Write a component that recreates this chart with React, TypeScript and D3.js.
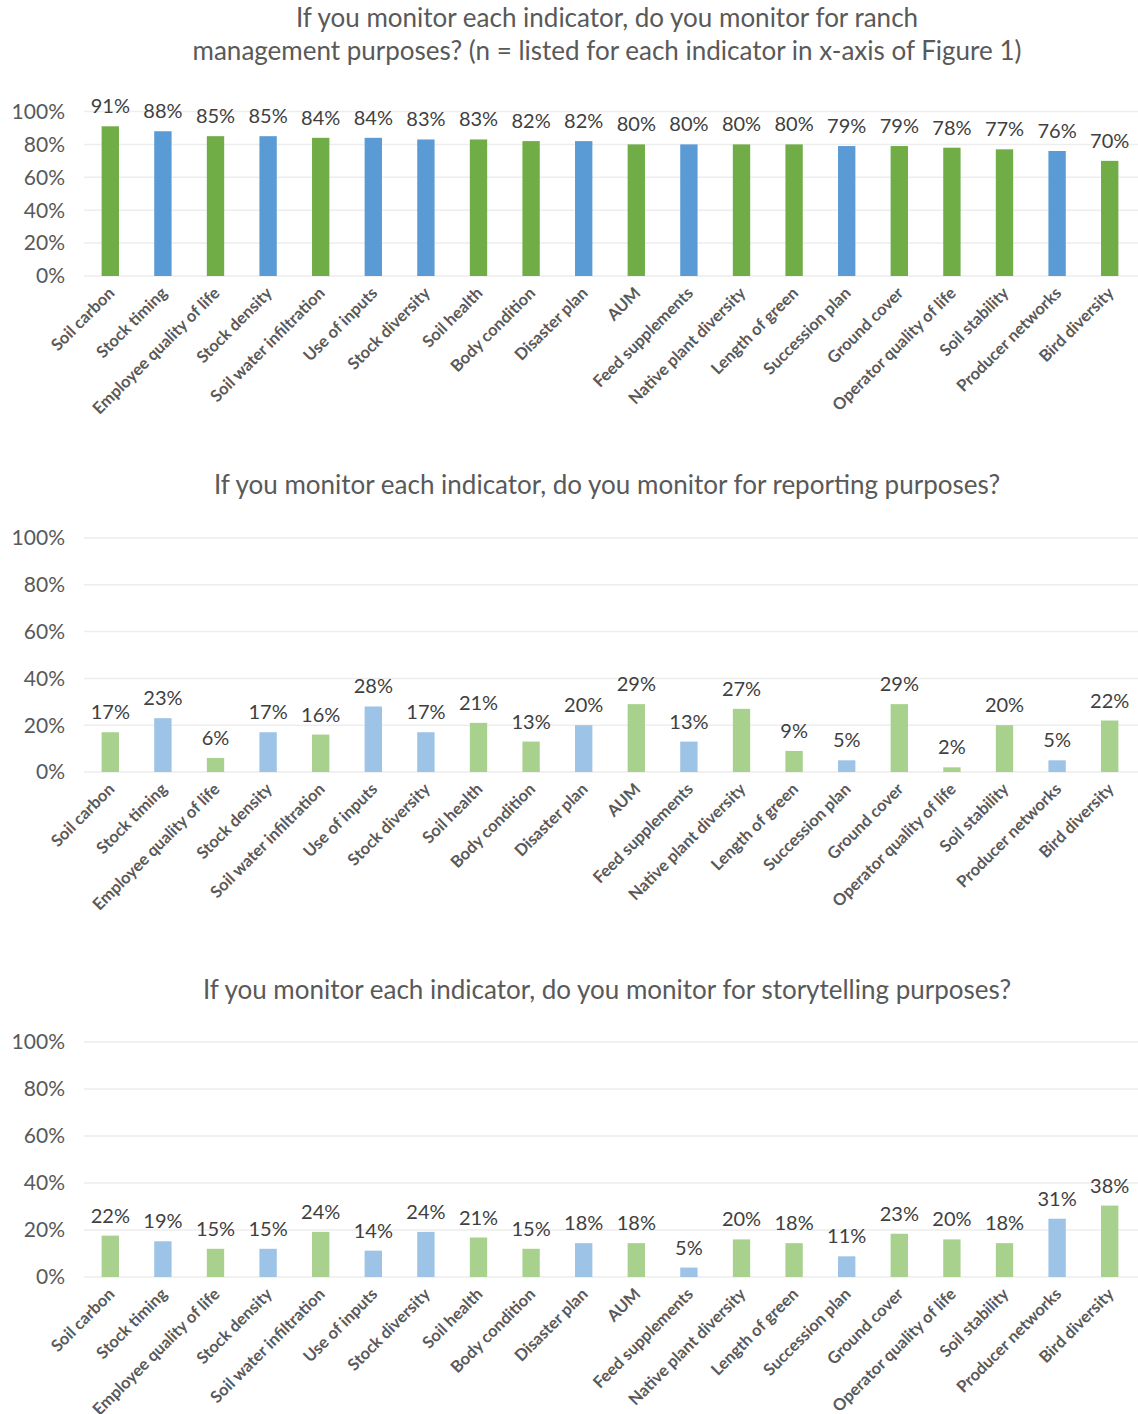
import React from "react";
import * as d3 from "d3";

const categories = [
  "Soil carbon", "Stock timing", "Employee quality of life", "Stock density",
  "Soil water infiltration", "Use of inputs", "Stock diversity", "Soil health",
  "Body condition", "Disaster plan", "AUM", "Feed supplements",
  "Native plant diversity", "Length of green", "Succession plan", "Ground cover",
  "Operator quality of life", "Soil stability", "Producer networks", "Bird diversity",
];
// "g" = green bar, "b" = blue bar
const groups = ["g","b","g","b","g","b","b","g","g","b","g","b","g","g","b","g","g","g","b","g"];

const management = [91,88,85,85,84,84,83,83,82,82,80,80,80,80,79,79,78,77,76,70];
const reporting = [17,23,6,17,16,28,17,21,13,20,29,13,27,9,5,29,2,20,5,22];
const storytelling = [22,19,15,15,24,14,24,21,15,18,18,5,20,18,11,23,20,18,31,38];

const yTicks = [0, 20, 40, 60, 80, 100];

// In the third panel of the reference, bars are drawn shorter than their labels (about 0.8x)
const storyBarDomainMax = 125;

const W = 1138;
const H = 1414;
const X0 = 84;
const X1 = 1136;

const panels = [
  {
    title: ["If you monitor each indicator, do you monitor for ranch",
            "management purposes? (n = listed for each indicator in x-axis of Figure 1)"],
    titleY: [27, 60],
    values: management, y0: 276, y100: 111.5, barMax: 100,
    colors: { g: "#70AD47", b: "#5B9BD5" },
  },
  {
    title: ["If you monitor each indicator, do you monitor for reporting purposes?"],
    titleY: [494],
    values: reporting, y0: 772, y100: 538, barMax: 100,
    colors: { g: "#A9D18E", b: "#9DC3E6" },
  },
  {
    title: ["If you monitor each indicator, do you monitor for storytelling purposes?"],
    titleY: [999],
    values: storytelling, y0: 1277, y100: 1042, barMax: storyBarDomainMax,
    colors: { g: "#A9D18E", b: "#9DC3E6" },
  },
];

const FONT = "Lato, 'Open Sans', sans-serif";

export default function App() {
  const x = d3.scaleBand<string>().domain(categories).range([X0, X1]).paddingInner(0.67).paddingOuter(0.335);
  return (
    <svg width={W} height={H} style={{ position: "absolute", left: 0, top: 0, display: "block", background: "#fff" }}>
      {panels.map((p, pi) => {
        const yAxis = d3.scaleLinear().domain([0, 100]).range([p.y0, p.y100]);
        const yBar = d3.scaleLinear().domain([0, p.barMax]).range([p.y0, p.y100]);
        return (
          <g key={pi}>
            {p.title.map((t, ti) => (
              <text key={ti} x={607} y={p.titleY[ti]} textAnchor="middle" fontFamily={FONT}
                fontSize={26} fill="#595959">{t}</text>
            ))}
            {yTicks.map((t) => (
              <g key={t}>
                <line x1={X0} x2={W} y1={yAxis(t)} y2={yAxis(t)} stroke="#EDEDED" strokeWidth={1.5} />
                <text x={65} y={yAxis(t)} dy="0.35em" textAnchor="end" fontFamily={FONT}
                  fontSize={21} fill="#595959">{t}%</text>
              </g>
            ))}
            {categories.map((c, i) => {
              const v = p.values[i];
              const bx = x(c)!;
              const top = yBar(v);
              const cx = bx + x.bandwidth() / 2;
              return (
                <g key={c}>
                  <rect x={bx} y={top} width={x.bandwidth()} height={p.y0 - top}
                    fill={(p.colors as any)[groups[i]]} />
                  <text x={cx} y={top - 13} textAnchor="middle" fontFamily={FONT}
                    fontSize={20} fill="#404040">{v}%</text>
                  <text transform={`translate(${cx - 3},${p.y0 + 10}) rotate(-45)`} textAnchor="end"
                    dy="0.7em" fontFamily={FONT} fontWeight={700} fontSize={16.5} fill="#595959">{c}</text>
                </g>
              );
            })}
          </g>
        );
      })}
    </svg>
  );
}
